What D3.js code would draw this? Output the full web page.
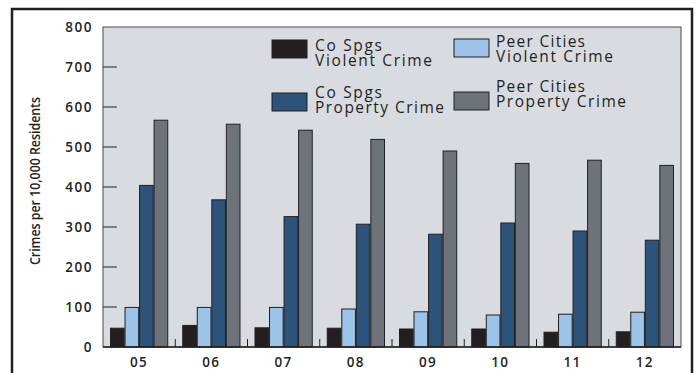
<!DOCTYPE html>
<html><head><meta charset="utf-8">
<script src="https://cdn.jsdelivr.net/npm/d3@7"></script>
<style>
html,body{margin:0;padding:0;background:#fff;}
svg{display:block;font-family:"Open Sans",sans-serif;}
</style></head>
<body>
<svg id="c" width="699" height="373"></svg>
<script>
const years = ["05","06","07","08","09","10","11","12"];
const series = ["Co Spgs Violent Crime","Peer Cities Violent Crime","Co Spgs Property Crime","Peer Cities Property Crime"];
const coViolent   = [47, 54, 48, 47, 45, 45, 37, 38];
const peerViolent = [99, 99, 99, 95, 88, 80, 82, 87];
const coProperty  = [404, 368, 326, 307, 282, 310, 290, 267];
const peerProperty= [567, 557, 542, 519, 490, 459, 467, 454];
const yTicks = [0,100,200,300,400,500,600,700,800];
const colors = ["#231f20","#9cc3e8","#2c5379","#6e737a"];
const values = [coViolent, peerViolent, coProperty, peerProperty];

const svg = d3.select("#c");
const L = 103, R = 681, T = 27, B = 347;

// outer frame
svg.append("rect").attr("x",12).attr("y",9).attr("width",680).attr("height",380)
  .attr("fill","none").attr("stroke","#231f20").attr("stroke-width",2.5);

// plot background
svg.append("rect").attr("x",L).attr("y",T).attr("width",R-L).attr("height",B-T)
  .attr("fill","#d8dce0").attr("stroke","#4a4a4a").attr("stroke-width",1);

const x0 = d3.scaleBand().domain(years).range([L,R]).padding(0);
const x1 = d3.scaleBand().domain(series).range([7.5, x0.bandwidth()-7.5]).paddingInner(0.06);
const y = d3.scaleLinear().domain([0,800]).range([B,T]);

// y ticks inside plot
svg.append("g").selectAll("line").data(yTicks.filter(d=>d>0 && d<800)).join("line")
  .attr("x1",L).attr("x2",L+14).attr("y1",d=>y(d)).attr("y2",d=>y(d))
  .attr("stroke","#231f20").attr("stroke-width",1);

// y tick labels
svg.append("g").selectAll("text").data(yTicks).join("text")
  .attr("x",93).attr("y",d=>y(d)+5)
  .attr("text-anchor","end").attr("font-size",13.5).attr("font-weight",600)
  .attr("letter-spacing",1.5).attr("fill","#231f20").text(d=>d);

// group separator ticks
svg.append("g").selectAll("line").data(years.slice(1)).join("line")
  .attr("x1",d=>x0(d)).attr("x2",d=>x0(d)).attr("y1",B).attr("y2",B-8)
  .attr("stroke","#231f20").attr("stroke-width",1);

// bars
const g = svg.append("g").selectAll("g").data(years).join("g")
  .attr("transform",d=>`translate(${x0(d)},0)`);
g.selectAll("rect").data((d,i)=>series.map((s,k)=>({s,k,v:values[k][i]}))).join("rect")
  .attr("x",d=>x1(d.s)).attr("width",x1.bandwidth())
  .attr("y",d=>y(d.v)).attr("height",d=>B-y(d.v))
  .attr("fill",d=>colors[d.k]).attr("stroke","#231f20").attr("stroke-width",1);

// baseline
svg.append("line").attr("x1",L).attr("x2",R).attr("y1",B).attr("y2",B)
  .attr("stroke","#231f20").attr("stroke-width",1.5);

// x labels
svg.append("g").selectAll("text").data(years).join("text")
  .attr("x",d=>x0(d)+x0.bandwidth()/2).attr("y",367)
  .attr("text-anchor","middle").attr("font-size",13.5).attr("font-weight",600)
  .attr("letter-spacing",1.5).attr("fill","#231f20").text(d=>d);

// y axis title
svg.append("text").attr("transform","translate(40,181) rotate(-90)")
  .attr("text-anchor","middle").attr("font-size",14.5).attr("font-weight",600)
  .attr("textLength",168).attr("lengthAdjust","spacingAndGlyphs")
  .attr("fill","#231f20").text("Crimes per 10,000 Residents");

// legend
const legend = [
  {k:0, sx:272, sy:40, tx:315, lines:["Co Spgs","Violent Crime"], ty:51, w:[67,117]},
  {k:1, sx:454, sy:39, tx:496, lines:["Peer Cities","Violent Crime"], ty:47, w:[89,117]},
  {k:2, sx:272, sy:93, tx:315, lines:["Co Spgs","Property Crime"], ty:98, w:[67,129]},
  {k:3, sx:454, sy:92, tx:496, lines:["Peer Cities","Property Crime"], ty:92, w:[89,130]}
];
const lg = svg.append("g").selectAll("g").data(legend).join("g");
lg.append("rect").attr("x",d=>d.sx).attr("y",d=>d.sy).attr("width",35).attr("height",18)
  .attr("fill",d=>colors[d.k]).attr("stroke","#231f20").attr("stroke-width",1);
lg.each(function(d){
  const t = d3.select(this).append("text").attr("font-size",15.5).attr("fill","#231f20");
  d.lines.forEach((s,i)=>{
    t.append("tspan").attr("x",d.tx).attr("y",d.ty + i*14.5)
      .attr("textLength",d.w[i]).attr("lengthAdjust","spacing").text(s);
  });
});
</script>
</body></html>
